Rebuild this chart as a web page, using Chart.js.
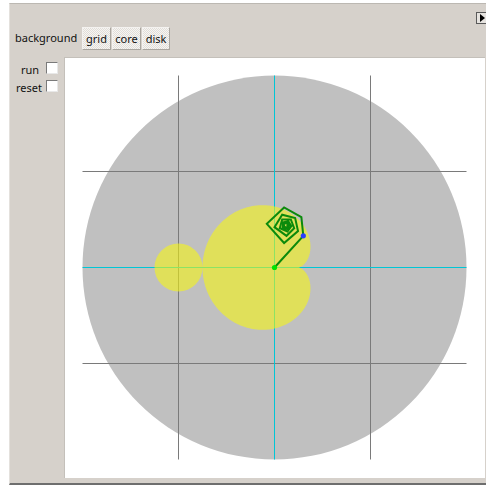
<!DOCTYPE html>
<html>
<head>
<meta charset="utf-8">
<script src="https://cdn.jsdelivr.net/npm/chart.js@4.4.1/dist/chart.umd.min.js"></script>
<style>
  html, body { margin: 0; padding: 0; background: #fff; width: 486px; height: 486px; overflow: hidden; }
  body { position: relative; font-family: "Noto Sans", "DejaVu Sans", sans-serif; font-size: 11px; color: #111; }
  .panel { position: absolute; left: 9px; top: 3px; width: 477px; height: 479px; background: #d6d1cb;
           border-top: 1px solid #bcb8b2; border-left: 1px solid #e4e1dd; border-bottom: 2px solid #6e6e6e; }
  .lbl { position: absolute; line-height: 14px; white-space: nowrap; }
  .tab { position: absolute; top: 27px; height: 21px; line-height: 21px; text-align: center;
         background: repeating-conic-gradient(#e2ded9 0 25%, #f6f5f3 0 50%) 0 0 / 2px 2px;
         border: 1px solid; border-color: #f4f2f0 #aaa6a0 #aaa6a0 #f4f2f0; }
  .chk { position: absolute; left: 46px; width: 10px; height: 10px; background: #fff;
         border: 1px solid; border-color: #7a7a7a #e8e8e8 #e8e8e8 #7a7a7a; }
  .plot { position: absolute; left: 64px; top: 57px; width: 420px; height: 420px; background: #fff;
          border-left: 1px solid #c4c0ba; border-top: 1px solid #c4c0ba; box-sizing: content-box; }
  .plot canvas { position: absolute; left: -1px; top: -1px; }
  .more { position: absolute; left: 476px; top: 12px; width: 10px; height: 10px; background: #e6e3df;
          border: 1px solid #5a5a5a; }
  .more:after { content: ""; position: absolute; left: 3px; top: 1px; border-left: 5px solid #000;
                border-top: 4px solid transparent; border-bottom: 4px solid transparent; }
</style>
</head>
<body>
<div class="panel"></div>
<div class="more"></div>
<div class="lbl" style="left:15px; top:31px;">background</div>
<div class="tab" style="left:82px; width:27px;">grid</div>
<div class="tab" style="left:112px; width:27px;">core</div>
<div class="tab" style="left:142px; width:26px;">disk</div>
<div class="lbl" style="left:21px; top:63px;">run</div>
<div class="chk" style="top:62px;"></div>
<div class="lbl" style="left:16px; top:81px;">reset</div>
<div class="chk" style="top:80px;"></div>
<div class="plot"><canvas id="mandel" width="420" height="420"></canvas></div>

<script>
// complex plane window (units per axis)
const extent = 2;
const gridValues = [-1, 1];
const axisValues = [0];

// escape disk and the two main components
const diskCenter = [0, 0];
const diskRadius = 2;
const bulbCenter = [-1, 0];
const bulbRadius = 0.25;
const cardioidRadius = 0.5;

// orbit of z -> z^2 + c starting at 0
const orbitRe = [0, 0.30, 0.28, 0.10, -0.08, 0.10, 0.245, 0.215, 0.08, 0.00, 0.125, 0.205, 0.17, 0.08,
                 0.055, 0.135, 0.175, 0.145, 0.09, 0.085, 0.135, 0.155, 0.13, 0.10, 0.10, 0.13, 0.14, 0.125];
const orbitIm = [0, 0.33, 0.525, 0.625, 0.455, 0.255, 0.38, 0.515, 0.55, 0.42, 0.33, 0.41, 0.50, 0.50,
                 0.41, 0.375, 0.43, 0.48, 0.47, 0.415, 0.40, 0.44, 0.465, 0.455, 0.425, 0.415, 0.44, 0.45];

const pxPerUnit = 96;

// straight lines across the whole disk
function lineSet(vals, color, width, order) {
  const sets = [];
  vals.forEach(v => {
    sets.push({ data: [{x: v, y: -extent}, {x: v, y: extent}] });
    sets.push({ data: [{x: -extent, y: v}, {x: extent, y: v}] });
  });
  return sets.map(s => Object.assign(s, {
    showLine: true, borderColor: color, borderWidth: width, pointRadius: 0, clip: false, order: order
  }));
}

const orbitPoints = orbitRe.map((re, i) => ({x: re, y: orbitIm[i]}));

// higher order is drawn first (underneath)
const datasets = [
  { data: [orbitPoints[0], orbitPoints[1]], pointRadius: 2.6, pointBorderWidth: 0,
    pointBackgroundColor: ['#00e400', '#2a3cff'], borderWidth: 0, order: 1 },
  { data: orbitPoints, showLine: true, borderColor: '#0b8a0b', borderWidth: 2, pointRadius: 0,
    borderJoinStyle: 'miter', order: 2 },
  ...lineSet(axisValues, '#00c6d6', 1, 4),
  ...lineSet(gridValues, '#7a7a7a', 1, 5)
];
const orbitIndex = 1;

const shapes = {
  id: 'shapes',
  beforeDatasetsDraw(chart) {
    const {ctx, scales: {x, y}} = chart;
    ctx.save();
    ctx.fillStyle = '#c0c0c0';
    ctx.beginPath();
    ctx.arc(x.getPixelForValue(diskCenter[0]), y.getPixelForValue(diskCenter[1]),
            x.getPixelForValue(diskRadius) - x.getPixelForValue(0), 0, 2 * Math.PI);
    ctx.fill();
    ctx.restore();
  },
  beforeDatasetDraw(chart, args) {
    if (args.index !== orbitIndex) return;
    const {ctx, scales: {x, y}} = chart;
    ctx.save();
    // translucent so the axes show through green
    ctx.fillStyle = 'rgba(250, 250, 10, 0.56)';
    ctx.beginPath();
    // main cardioid: c = r e^{it} - (r e^{it})^2
    for (let k = 0; k <= 720; k++) {
      const t = k / 720 * 2 * Math.PI;
      const re = cardioidRadius * Math.cos(t) - cardioidRadius * cardioidRadius * Math.cos(2 * t);
      const im = cardioidRadius * Math.sin(t) - cardioidRadius * cardioidRadius * Math.sin(2 * t);
      if (k === 0) ctx.moveTo(x.getPixelForValue(re), y.getPixelForValue(im));
      else ctx.lineTo(x.getPixelForValue(re), y.getPixelForValue(im));
    }
    ctx.closePath();
    ctx.moveTo(x.getPixelForValue(bulbCenter[0] + bulbRadius), y.getPixelForValue(bulbCenter[1]));
    ctx.arc(x.getPixelForValue(bulbCenter[0]), y.getPixelForValue(bulbCenter[1]),
            x.getPixelForValue(bulbRadius) - x.getPixelForValue(0), 0, 2 * Math.PI);
    ctx.fill();
    ctx.restore();
  }
};

const ctx = document.getElementById('mandel').getContext('2d');
const chart = new Chart(ctx, {
  type: 'scatter',
  data: { datasets: datasets },
  options: {
    responsive: false,
    animation: false,
    devicePixelRatio: 1,
    layout: { padding: 0, autoPadding: false },
    plugins: { legend: { display: false }, tooltip: { enabled: false } },
    scales: {
      // centre of the plane sits on a half pixel so 1px lines stay crisp
      x: { display: false, min: -210.5 / pxPerUnit, max: 209.5 / pxPerUnit },
      y: { display: false, min: -209.5 / pxPerUnit, max: 210.5 / pxPerUnit }
    }
  },
  plugins: [shapes]
});
</script>
</body>
</html>
